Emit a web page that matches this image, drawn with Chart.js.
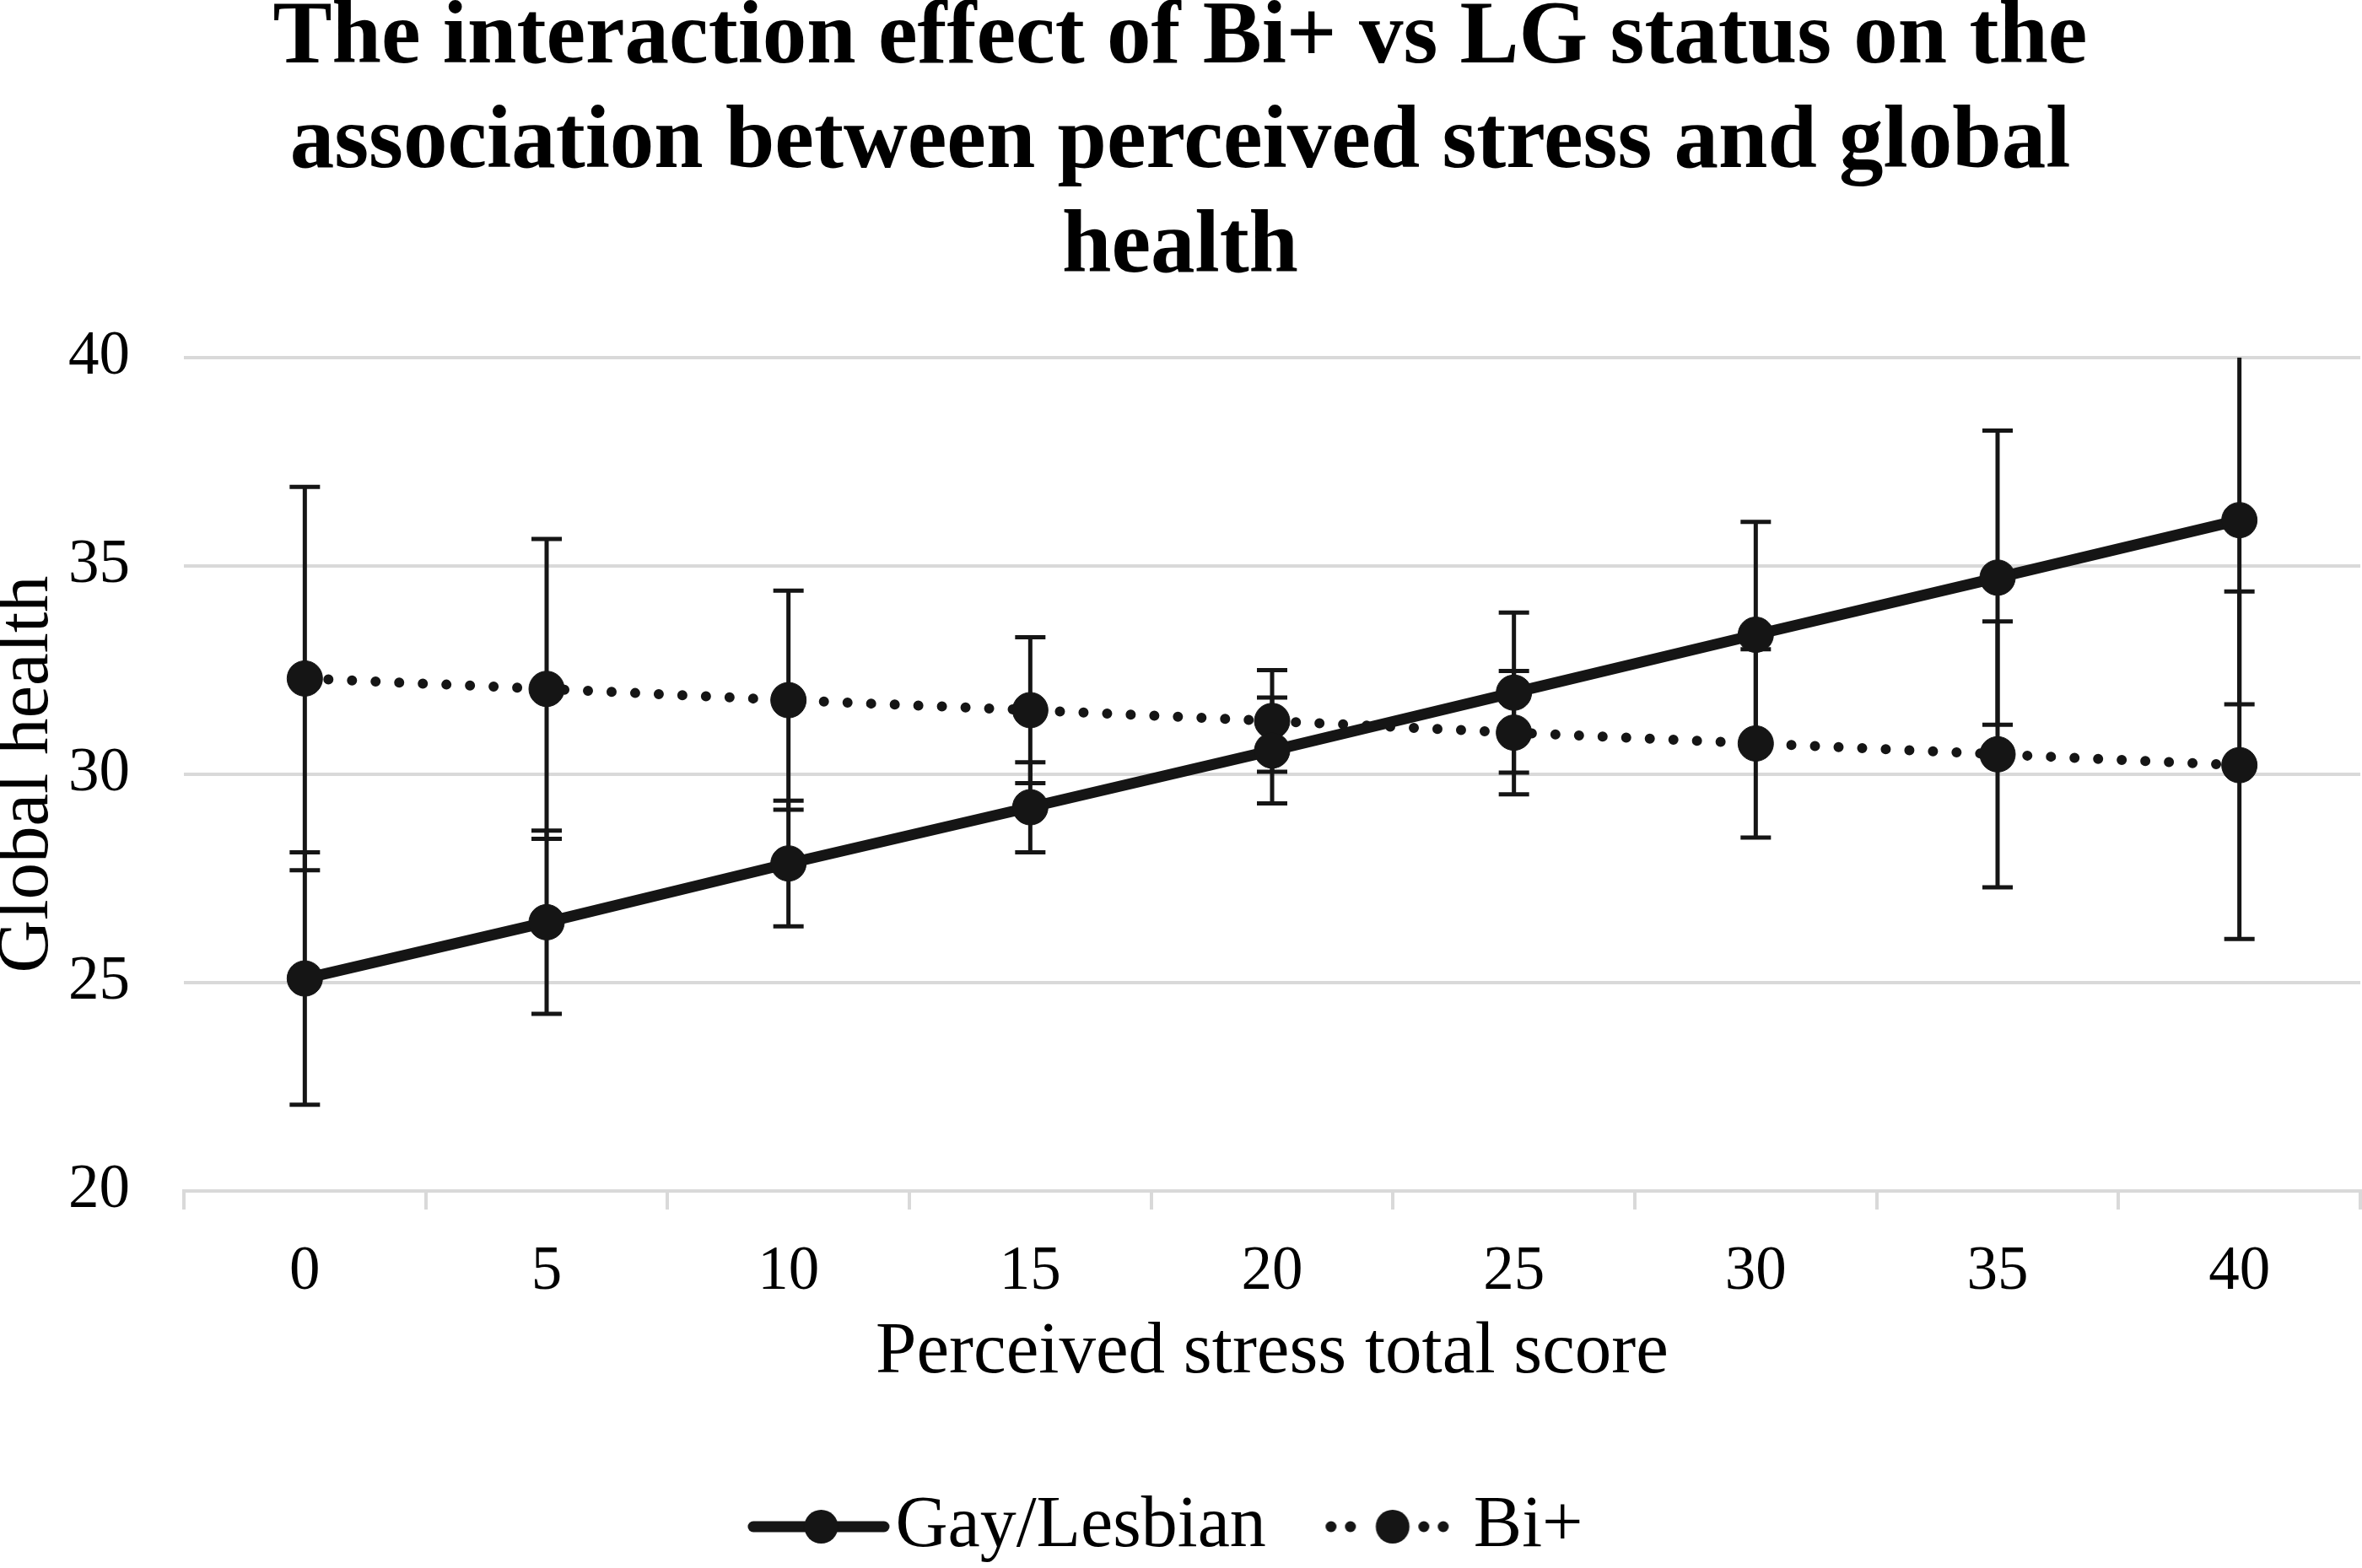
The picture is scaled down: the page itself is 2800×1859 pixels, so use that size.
<!DOCTYPE html>
<html>
<head>
<meta charset="utf-8">
<script src="https://cdn.jsdelivr.net/npm/chart.js@4.4.1/dist/chart.umd.min.js"></script>
<style>
  html, body { margin: 0; padding: 0; background: #fff; }
  canvas { display: block; }
</style>
</head>
<body>
<canvas id="chart" width="2800" height="1859"></canvas>
<script>
// values
const stressScores = ["0", "5", "10", "15", "20", "25", "30", "35", "40"];
const gayLesbianMean = [25.1, 26.45, 27.86, 29.21, 30.57, 31.96, 33.35, 34.72, 36.1];
const gayLesbianErr = [3.03, 2.2, 1.51, 1.08, 1.27, 1.92, 2.71, 3.53, 4.42];
const biPlusMean = [32.3, 32.05, 31.78, 31.54, 31.28, 31.0, 30.74, 30.48, 30.22];
const biPlusErr = [4.6, 3.6, 2.63, 1.75, 1.22, 1.48, 2.26, 3.19, 4.17];
const yTicks = [20, 25, 30, 35, 40];

const INK = "#151515";
const GRID = "#d9d9d9";
const SERIF = "'Liberation Serif', 'Times New Roman', serif";

Chart.defaults.font.family = SERIF;
Chart.defaults.color = "#000";

// legend icons: line + marker, like the original
function makeIcon(dotted) {
  const c = document.createElement("canvas");
  c.width = 180;
  c.height = 48;
  const g = c.getContext("2d");
  g.fillStyle = INK;
  g.strokeStyle = INK;
  if (dotted) {
    [12.5, 35.5, 122.5, 145.5].forEach(x => {
      g.beginPath();
      g.arc(x, 24, 6.5, 0, Math.PI * 2);
      g.fill();
    });
    g.beginPath();
    g.arc(85.5, 24, 20, 0, Math.PI * 2);
    g.fill();
  } else {
    g.lineWidth = 13;
    g.lineCap = "round";
    g.beginPath();
    g.moveTo(13, 24);
    g.lineTo(168, 24);
    g.stroke();
    g.beginPath();
    g.arc(93.5, 24, 20, 0, Math.PI * 2);
    g.fill();
  }
  return c;
}
const legendIcons = [makeIcon(false), makeIcon(true)];

// error bars drawn through the scales
const errorBars = {
  id: "errorBars",
  beforeDatasetsDraw(chart) {
    const { ctx, chartArea } = chart;
    const yScale = chart.scales.y;
    ctx.save();
    ctx.beginPath();
    ctx.rect(chartArea.left, chartArea.top, chartArea.right - chartArea.left, chartArea.bottom - chartArea.top);
    ctx.clip();
    ctx.strokeStyle = INK;
    ctx.lineWidth = 5;
    chart.data.datasets.forEach((ds, di) => {
      const meta = chart.getDatasetMeta(di);
      meta.data.forEach((pt, i) => {
        const v = ds.data[i];
        const e = ds.errors[i];
        const yHi = yScale.getPixelForValue(v + e);
        const yLo = yScale.getPixelForValue(v - e);
        const x = pt.x;
        ctx.beginPath();
        ctx.moveTo(x, yHi);
        ctx.lineTo(x, yLo);
        ctx.moveTo(x - 18, yHi);
        ctx.lineTo(x + 18, yHi);
        ctx.moveTo(x - 18, yLo);
        ctx.lineTo(x + 18, yLo);
        ctx.stroke();
      });
    });
    ctx.restore();
  }
};

new Chart(document.getElementById("chart"), {
  type: "line",
  data: {
    labels: stressScores,
    datasets: [
      {
        label: "Gay/Lesbian",
        data: gayLesbianMean,
        errors: gayLesbianErr,
        borderColor: INK,
        backgroundColor: INK,
        borderWidth: 13,
        pointRadius: 21,
        pointHoverRadius: 21,
        pointBackgroundColor: INK,
        pointBorderColor: INK,
        pointBorderWidth: 1,
        tension: 0
      },
      {
        label: "Bi+",
        data: biPlusMean,
        errors: biPlusErr,
        borderColor: INK,
        backgroundColor: INK,
        borderWidth: 12,
        borderDash: [0, 28],
        borderCapStyle: "round",
        pointRadius: 21,
        pointHoverRadius: 21,
        pointBackgroundColor: INK,
        pointBorderColor: INK,
        pointBorderWidth: 1,
        tension: 0
      }
    ]
  },
  options: {
    responsive: false,
    animation: false,
    devicePixelRatio: 1,
    layout: { autoPadding: false, padding: { left: 0, right: 2, top: 0, bottom: -4 } },
    plugins: {
      title: {
        display: true,
        text: [
          "The interaction effect of Bi+ vs LG status on the",
          "association between perceived stress and global",
          "health"
        ],
        color: "#000",
        font: { size: 105, weight: "bold", lineHeight: 1.181 },
        padding: { top: -15, bottom: 67 }
      },
      legend: {
        position: "bottom",
        labels: {
          usePointStyle: true,
          pointStyleWidth: 97,
          padding: 106,
          color: "#000",
          font: { size: 86 },
          generateLabels(chart) {
            const items = Chart.defaults.plugins.legend.labels.generateLabels(chart);
            items.forEach((it, i) => { it.pointStyle = legendIcons[i]; });
            return items;
          }
        }
      },
      tooltip: { enabled: false }
    },
    scales: {
      x: {
        type: "category",
        offset: true,
        grid: {
          offset: true,
          drawOnChartArea: false,
          drawTicks: true,
          tickLength: 22,
          color: GRID,
          lineWidth: 4
        },
        border: { display: true, color: GRID, width: 4 },
        ticks: { font: { size: 73 }, padding: 31, color: "#000" },
        title: {
          display: true,
          text: "Perceived stress total score",
          color: "#000",
          font: { size: 87 },
          padding: { top: -32, bottom: 5 }
        }
      },
      y: {
        min: 20,
        max: 40,
        afterBuildTicks(scale) {
          scale.ticks = yTicks.map(v => ({ value: v }));
        },
        afterFit(scale) {
          scale.width = 218;
        },
        grid: { color: GRID, lineWidth: 4, drawTicks: false },
        border: { display: false },
        ticks: { font: { size: 73 }, padding: 64, color: "#000" },
        title: {
          display: true,
          text: "Global health",
          color: "#000",
          font: { size: 87 },
          padding: { top: -19, bottom: 0 }
        }
      }
    }
  },
  plugins: [errorBars]
});
</script>
</body>
</html>
